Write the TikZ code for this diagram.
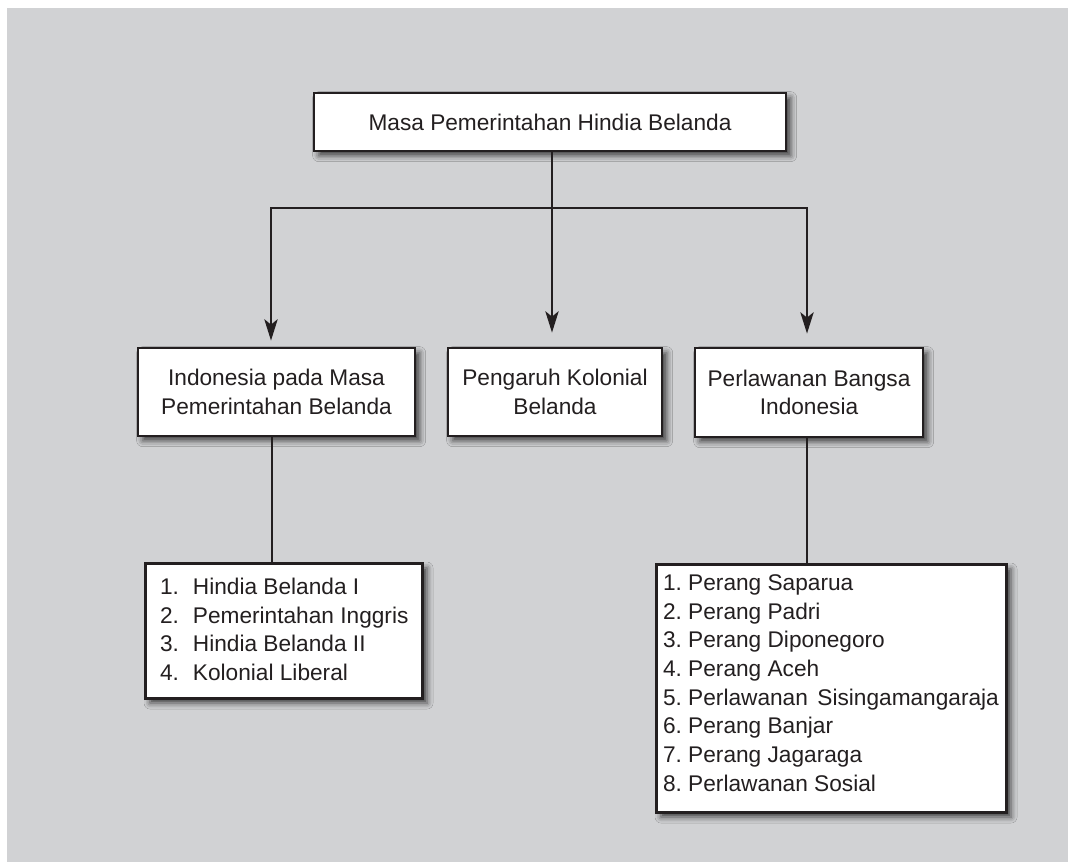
\documentclass[tikz,border=0pt]{standalone}
\usepackage{fontspec}
\setmainfont{Liberation Sans}
\usetikzlibrary{arrows.meta,shadows.blur}
\definecolor{bg}{HTML}{D1D2D4}
\definecolor{ink}{HTML}{231F20}
\begin{document}
\begin{tikzpicture}[x=0.75pt,y=-0.75pt,
  font=\fontsize{17}{21.5}\selectfont,
  box/.style={draw=ink, line width=2.1pt, fill=white, text=ink, align=center, inner sep=0pt,
    blur shadow={shadow xshift=3.5pt, shadow yshift=-3.5pt, shadow blur radius=4.5pt, shadow opacity=70}},
  conn/.style={draw=ink, line width=1.6pt, line cap=rect},
  arr/.style={draw=ink, line width=1.6pt, -{Stealth[length=16pt,width=10pt,inset=4pt]}}]
\useasboundingbox (0,0) rectangle (1068,862);
\fill[bg] (7,8) rectangle (1068,862);

\node[box, minimum width=354pt, minimum height=43.5pt] (top) at (550,122) {Masa Pemerintahan Hindia Belanda};
\node[box, minimum width=207.75pt, minimum height=66pt] (left) at (276.5,392) {Indonesia pada Masa\\Pemerintahan Belanda};
\node[box, minimum width=160.5pt, minimum height=66pt] (mid) at (555,392) {Pengaruh Kolonial\\Belanda};
\node[box, minimum width=171pt, minimum height=66.75pt] (right) at (809,392.5) {Perlawanan Bangsa\\Indonesia};

\node[box, anchor=north west, align=left] (llist) at (144,562) {\parbox[c][101.25pt][t]{207.75pt}{\vspace*{8.2pt}\hspace*{11pt}\begin{tabular}{@{}l@{\hspace{10.5pt}}l@{}}
1. & Hindia Belanda I\\
2. & Pemerintahan Inggris\\
3. & Hindia Belanda II\\
4. & Kolonial Liberal
\end{tabular}}};

\node[box, anchor=north west, align=left] (rlist) at (655,563) {\parbox[c][186pt][t]{262.5pt}{\vspace*{4.45pt}\hspace*{5pt}\begin{tabular}{@{}l@{\hspace{4.7pt}}l@{}}
1. & Perang Saparua\\
2. & Perang Padri\\
3. & Perang Diponegoro\\
4. & Perang Aceh\\
5. & Perlawanan\hspace{0.42em}Sisingamangaraja\\
6. & Perang Banjar\\
7. & Perang Jagaraga\\
8. & Perlawanan Sosial
\end{tabular}}};

\coordinate (jL) at (271,208);
\coordinate (jM) at (552,208);
\coordinate (jR) at (807,208);
\coordinate (vL) at (272,0);
\coordinate (vR) at (807,0);

\draw[conn] (top.south -| jM) -- (jM);
\draw[conn] (jL) -- (jR);
\draw[arr, shorten >=4.5pt] (jL) -- (left.north -| jL);
\draw[arr, shorten >=10.5pt] (jM) -- (mid.north -| jM);
\draw[arr, shorten >=9.75pt] (jR) -- (right.north -| jR);
\draw[conn, line cap=butt] (left.south -| vL) -- (llist.north -| vL);
\draw[conn, line cap=butt] (right.south -| vR) -- (rlist.north -| vR);
\end{tikzpicture}
\end{document}
